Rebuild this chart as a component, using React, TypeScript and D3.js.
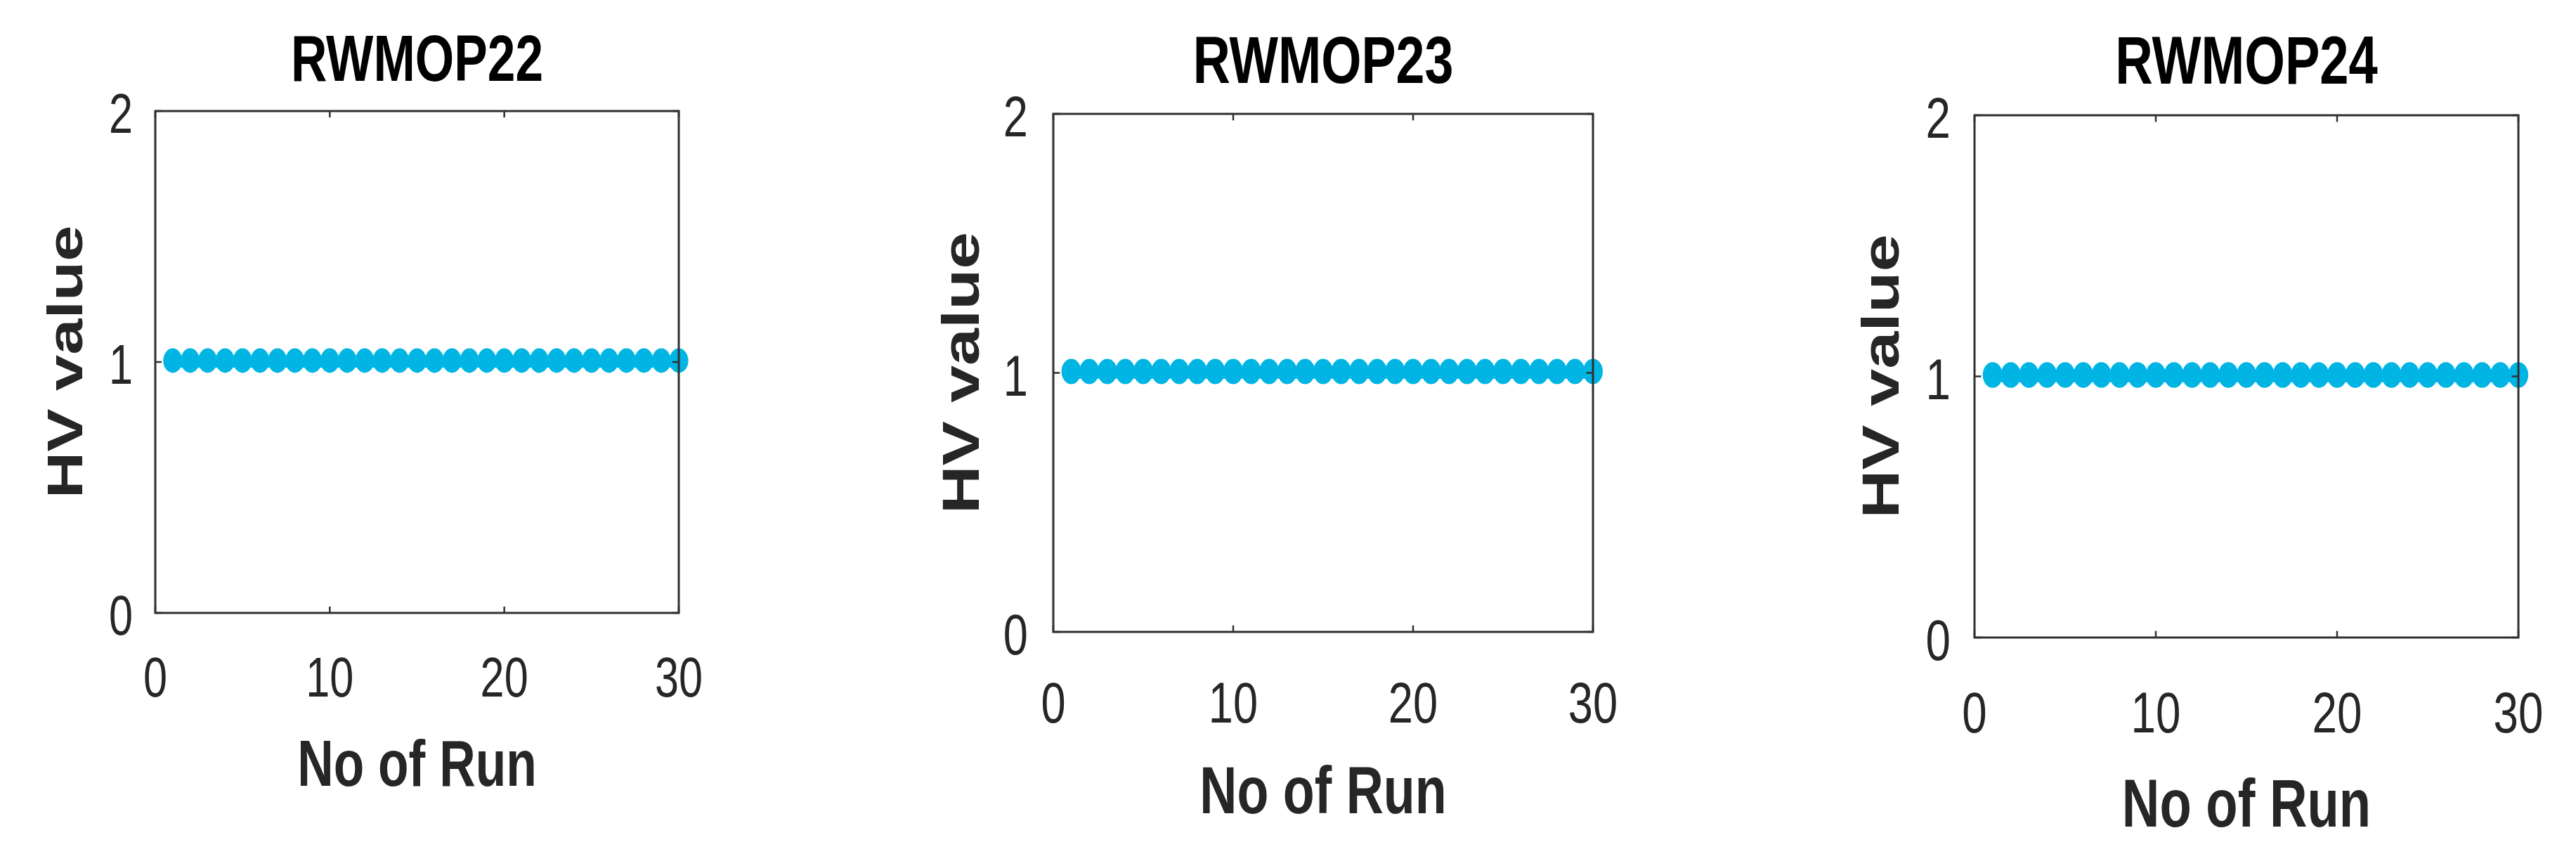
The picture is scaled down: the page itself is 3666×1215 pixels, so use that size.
import React from "react";
import * as d3 from "d3";

// ---- data ----
const panelTitles = ["RWMOP22", "RWMOP23", "RWMOP24"];
const runs = [1, 2, 3, 4, 5, 6, 7, 8, 9, 10, 11, 12, 13, 14, 15, 16, 17, 18, 19, 20, 21, 22, 23, 24, 25, 26, 27, 28, 29, 30];
const hv22 = [1, 1, 1, 1, 1, 1, 1, 1, 1, 1, 1, 1, 1, 1, 1, 1, 1, 1, 1, 1, 1, 1, 1, 1, 1, 1, 1, 1, 1, 1];
const hv23 = [1, 1, 1, 1, 1, 1, 1, 1, 1, 1, 1, 1, 1, 1, 1, 1, 1, 1, 1, 1, 1, 1, 1, 1, 1, 1, 1, 1, 1, 1];
const hv24 = [1, 1, 1, 1, 1, 1, 1, 1, 1, 1, 1, 1, 1, 1, 1, 1, 1, 1, 1, 1, 1, 1, 1, 1, 1, 1, 1, 1, 1, 1];
const seriesList = [hv22, hv23, hv24];
const xTicks = [0, 10, 20, 30];
const yTicks = [0, 1, 2];
const xDomain = [0, 30];
const yDomain = [0, 2];
const xLabel = "No of Run";
const yLabel = "HV value";

// ---- layout ----
const W = 3666;
const H = 1215;
const SX = 0.775; // horizontal squish of the original image
const layouts = [
  { left: 221, top: 158, right: 966, bottom: 872, xTickOff: 119, xLabelOff: 246, yLabelGap: 104, yTickGap: 32 },
  { left: 1499, top: 162, right: 2267, bottom: 899, xTickOff: 129, xLabelOff: 258, yLabelGap: 106, yTickGap: 36 },
  { left: 2810, top: 164, right: 3584, bottom: 907, xTickOff: 135, xLabelOff: 269, yLabelGap: 108, yTickGap: 34 },
];
const FONT = "'Liberation Sans', Arial, Helvetica, sans-serif";
const MARKER = "#00B5E3";
const AXIS = "#303030";

function Panel({ idx }: { idx: number }) {
  const L = layouts[idx];
  const s = (L.bottom - L.top) / 714;
  const x = d3.scaleLinear().domain(xDomain).range([L.left, L.right]);
  const y = d3.scaleLinear().domain(yDomain).range([L.bottom, L.top]);
  const data = runs.map((r, i) => ({ r, v: seriesList[idx][i] }));
  const line = d3
    .line<{ r: number; v: number }>()
    .x((d) => x(d.r))
    .y((d) => y(d.v));
  const tickFont = 79 * s;
  const labelFont = 92 * s;
  const tickLen = 9 * s;
  const cx = (L.left + L.right) / 2;
  const cy = (L.top + L.bottom) / 2;
  return (
    <g>
      {/* data */}
      <path d={line(data) || ""} fill="none" stroke={MARKER} strokeWidth={16 * s} />
      {data.map((d, i) => (
        <ellipse key={i} cx={x(d.r)} cy={y(d.v) - 2} rx={17.5 * s * SX} ry={17.5 * s} fill={MARKER} />
      ))}
      {/* box */}
      <rect
        x={L.left}
        y={L.top}
        width={L.right - L.left}
        height={L.bottom - L.top}
        fill="none"
        stroke={AXIS}
        strokeWidth={3}
      />
      {/* x ticks */}
      {xTicks.map((t) => (
        <g key={"xt" + t}>
          <line x1={x(t)} x2={x(t)} y1={L.bottom} y2={L.bottom - tickLen} stroke={AXIS} strokeWidth={2.5} />
          <line x1={x(t)} x2={x(t)} y1={L.top} y2={L.top + tickLen} stroke={AXIS} strokeWidth={2.5} />
          <text
            transform={`translate(${x(t)},${L.bottom + L.xTickOff}) scale(${SX},1)`}
            textAnchor="middle"
            fontFamily={FONT}
            fontSize={tickFont}
            fill="#262626"
          >
            {t}
          </text>
        </g>
      ))}
      {/* y ticks */}
      {yTicks.map((t) => (
        <g key={"yt" + t}>
          <line x1={L.left} x2={L.left + tickLen} y1={y(t)} y2={y(t)} stroke={AXIS} strokeWidth={2.5} />
          <line x1={L.right} x2={L.right - tickLen} y1={y(t)} y2={y(t)} stroke={AXIS} strokeWidth={2.5} />
          <text
            transform={`translate(${L.left - L.yTickGap},${y(t) + tickFont * 0.358 + 3}) scale(${SX},1)`}
            textAnchor="end"
            fontFamily={FONT}
            fontSize={tickFont}
            fill="#262626"
          >
            {t}
          </text>
        </g>
      ))}
      {/* title */}
      <text
        transform={`translate(${cx},${L.top - 43 * s}) scale(${SX},1)`}
        textAnchor="middle"
        fontFamily={FONT}
        fontWeight="bold"
        fontSize={labelFont}
        fill="#000"
      >
        {panelTitles[idx]}
      </text>
      {/* x label */}
      <text
        transform={`translate(${cx},${L.bottom + L.xLabelOff}) scale(${SX},1)`}
        textAnchor="middle"
        fontFamily={FONT}
        fontWeight="bold"
        fontSize={labelFont}
        fill="#262626"
      >
        {xLabel}
      </text>
      {/* y label */}
      <text
        transform={`translate(${L.left - L.yLabelGap},${cy}) scale(${SX},1) rotate(-90)`}
        textAnchor="middle"
        fontFamily={FONT}
        fontWeight="bold"
        fontSize={labelFont}
        fill="#262626"
      >
        {yLabel}
      </text>
    </g>
  );
}

export default function App() {
  return (
    <svg
      width={W}
      height={H}
      viewBox={`0 0 ${W} ${H}`}
      style={{ position: "absolute", left: 0, top: 0, background: "#fff" }}
    >
      <rect x={0} y={0} width={W} height={H} fill="#fff" />
      {panelTitles.map((_, i) => (
        <Panel key={i} idx={i} />
      ))}
    </svg>
  );
}
